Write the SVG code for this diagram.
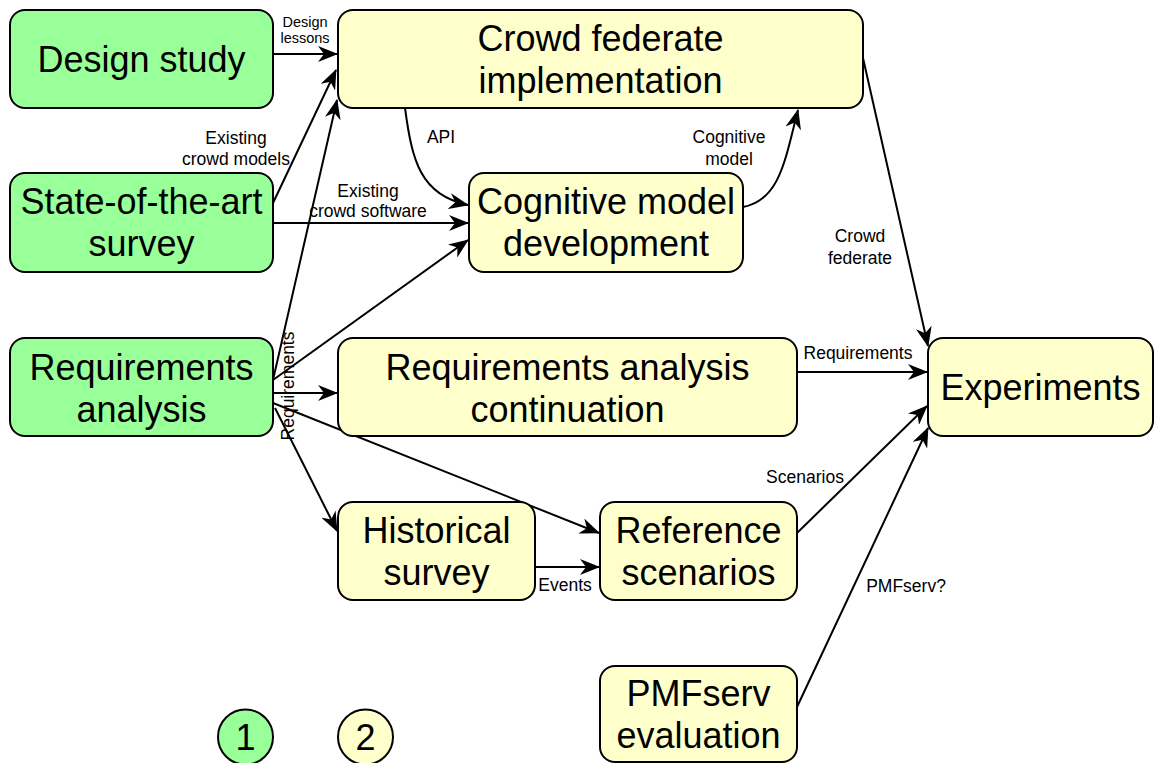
<svg xmlns="http://www.w3.org/2000/svg" width="1154" height="763" viewBox="0 0 1154 763">
<defs>
<marker id="arr" viewBox="0 0 20 16" markerWidth="20" markerHeight="16" refX="19" refY="8" orient="auto" markerUnits="userSpaceOnUse">
<path d="M0,0 L20,8 L0,16 L6,8 Z" fill="#000"/>
</marker>
<style>
.g{fill:#99FF99;stroke:#000;stroke-width:2}
.y{fill:#FFFFCC;stroke:#000;stroke-width:2}
.t{font-family:"Liberation Sans",Arial,sans-serif;font-size:36px;fill:#000;text-anchor:middle}
.l{font-family:"Liberation Sans",Arial,sans-serif;font-size:17.5px;fill:#000;text-anchor:middle}
.s{font-family:"Liberation Sans",Arial,sans-serif;font-size:14.5px;fill:#000;text-anchor:middle}
.e{fill:none;stroke:#000;stroke-width:2;marker-end:url(#arr)}
</style>
</defs>
<rect width="1154" height="763" fill="#fff"/>
<g id="connectors">
<line class="e" x1="273" y1="54" x2="337" y2="54"/>
<line class="e" x1="273" y1="203" x2="336" y2="70"/>
<line class="e" x1="273" y1="380" x2="337" y2="100"/>
<line class="e" x1="273" y1="223" x2="468" y2="223"/>
<path class="e" d="M405,108 C412,160 420,195 468,205"/>
<path class="e" d="M743,207 C780,200 785,160 798,110"/>
<line class="e" x1="273" y1="380" x2="468" y2="240"/>
<line class="e" x1="273" y1="393" x2="337" y2="393"/>
<line class="e" x1="275" y1="408" x2="337" y2="531"/>
<line class="e" x1="273" y1="403" x2="599" y2="533"/>
<line class="e" x1="535" y1="567" x2="599" y2="567"/>
<line class="e" x1="797" y1="533" x2="927" y2="406"/>
<line class="e" x1="797" y1="707" x2="928" y2="428"/>
<line class="e" x1="797" y1="372" x2="927" y2="372"/>
<line class="e" x1="863" y1="58" x2="928" y2="346"/>
<text class="s" x="305" y="27">Design</text>
<text class="s" x="305" y="43">lessons</text>
<text class="l" x="236" y="144">Existing</text>
<text class="l" x="236" y="165">crowd models</text>
<text class="l" x="368" y="197">Existing</text>
<text class="l" x="368" y="217">crowd software</text>
<text class="l" x="441" y="143">API</text>
<text class="l" x="729" y="143">Cognitive</text>
<text class="l" x="729" y="165">model</text>
<text class="l" x="860" y="242">Crowd</text>
<text class="l" x="860" y="264">federate</text>
<text class="l" x="858" y="359">Requirements</text>
<text class="l" transform="translate(294,386) rotate(-90)">Requirements</text>
<text class="l" x="565" y="591">Events</text>
<text class="l" x="805" y="483">Scenarios</text>
<text class="l" x="906" y="592">PMFserv?</text>
</g>
<g id="design-study">
<rect class="g" x="10" y="10" width="263" height="98" rx="15"/>
<text class="t" x="141.5" y="72">Design study</text>
</g>
<g id="state-of-the-art">
<rect class="g" x="10" y="173" width="263" height="99" rx="15"/>
<text class="t" x="141.5" y="214">State-of-the-art</text>
<text class="t" x="141.5" y="256">survey</text>
</g>
<g id="requirements-analysis">
<rect class="g" x="10" y="338" width="263" height="98" rx="15"/>
<text class="t" x="141.5" y="380">Requirements</text>
<text class="t" x="141.5" y="422">analysis</text>
</g>
<g id="crowd-federate">
<rect class="y" x="338" y="10" width="525" height="98" rx="15"/>
<text class="t" x="600.5" y="51">Crowd federate</text>
<text class="t" x="600.5" y="93">implementation</text>
</g>
<g id="cognitive-model">
<rect class="y" x="469" y="173" width="274" height="99" rx="15"/>
<text class="t" x="606" y="214">Cognitive model</text>
<text class="t" x="606" y="256">development</text>
</g>
<g id="requirements-continuation">
<rect class="y" x="338" y="338" width="459" height="98" rx="15"/>
<text class="t" x="567.5" y="380">Requirements analysis</text>
<text class="t" x="567.5" y="422">continuation</text>
</g>
<g id="experiments">
<rect class="y" x="928" y="338" width="225" height="98" rx="15"/>
<text class="t" x="1040.5" y="400">Experiments</text>
</g>
<g id="historical-survey">
<rect class="y" x="338" y="502" width="197" height="98" rx="15"/>
<text class="t" x="436.5" y="543">Historical</text>
<text class="t" x="436.5" y="585">survey</text>
</g>
<g id="reference-scenarios">
<rect class="y" x="600" y="502" width="197" height="98" rx="15"/>
<text class="t" x="698.5" y="543">Reference</text>
<text class="t" x="698.5" y="585">scenarios</text>
</g>
<g id="pmfserv-evaluation">
<rect class="y" x="600" y="666" width="197" height="96" rx="15"/>
<text class="t" x="698.5" y="706">PMFserv</text>
<text class="t" x="698.5" y="748">evaluation</text>
</g>
<g id="legend-1">
<circle class="g" cx="245.5" cy="737" r="27.5"/>
<text class="t" x="245.5" y="750">1</text>
</g>
<g id="legend-2">
<circle class="y" cx="365.5" cy="737" r="27.5"/>
<text class="t" x="365.5" y="750">2</text>
</g>
</svg>
